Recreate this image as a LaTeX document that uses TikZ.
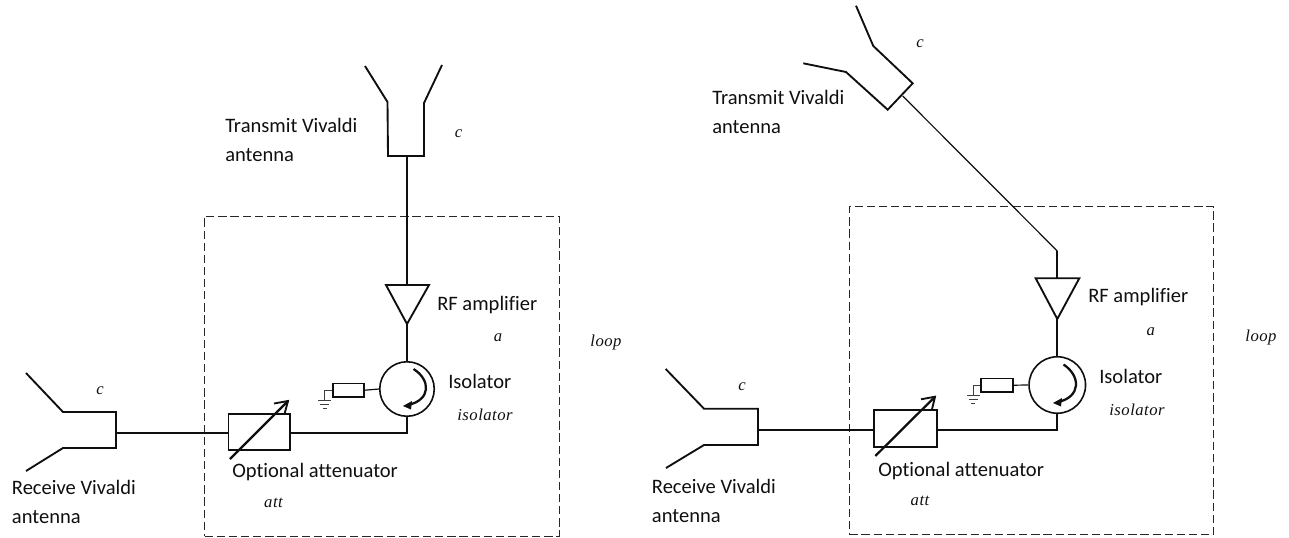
\documentclass[tikz,border=0pt]{standalone}
\usepackage{fontspec}
\setmainfont[Ligatures=NoCommon]{Carlito}
\newfontfamily\mathish[LetterSpace=3]{Liberation Serif}
\usetikzlibrary{calc}
\definecolor{ink}{RGB}{15,15,15}
\tikzset{
  x=0.75pt,y=-0.75pt,
  wire/.style={draw=ink,line width=1.4pt,line join=miter},
  thinwire/.style={draw=ink,line width=0.9pt},
  hairwire/.style={draw=ink!80,line width=0.7pt},
  loopbox/.style={draw=ink!90,line width=0.85pt,dash pattern=on 6.2pt off 2.9pt},
  boxpart/.style={draw=ink,line width=1.4pt,inner sep=0pt,anchor=north west},
  isoring/.style={draw=ink,line width=1.2pt,circle,inner sep=0pt},
  lab/.style={anchor=base west,inner sep=0pt,text=ink,align=left,font=\fontsize{15.4}{21.75}\selectfont},
  var/.style={anchor=base,inner sep=0pt,text=ink,font=\mathish\itshape\fontsize{12.5}{14}\selectfont},
}
\begin{document}
\begin{tikzpicture}
\useasboundingbox (0,0) rectangle (1289,537);

%% LEFT
\node[inner sep=0pt,minimum width=354.5*0.75pt,minimum height=320*0.75pt,anchor=north west,loopbox] (loopL) at (204,215.5) {};
% transmit antenna
\coordinate (ta1) at (365,66); \coordinate (ta2) at (387.5,102); \coordinate (ta3) at (388,156);
\coordinate (ta4) at (424,156); \coordinate (ta5) at (424,103); \coordinate (ta6) at (442,65);
\coordinate (tafeed) at (407,156);
\draw[wire] (ta1) -- (ta2) -- (ta3) -- (ta4) -- (ta5) -- (ta6);
% amplifier
\coordinate (ampLl) at (386,285); \coordinate (ampLr) at (429,285); \coordinate (ampLo) at (407,324); \coordinate (ampLi) at (407,285);
\draw[wire] (ampLl) -- (ampLr) -- (ampLo) -- cycle;
\draw[wire] (tafeed) -- (ampLi);
% isolator
\node[isoring,minimum size=54.5*0.75pt] (isoL) at (407,389) {};
\draw[wire] (ampLo) -- (isoL.north);
\draw[draw=ink,line width=1.7pt] (413.5,369) .. controls (431,380) and (431,400) .. (408,405);
\fill[ink] (403,406) -- (412,401) -- (411,409.5) -- cycle;
% attenuator
\node[boxpart,minimum width=61.5*0.75pt,minimum height=36*0.75pt] (attL) at (227.5,413) {};
% receive antenna
\coordinate (ra1) at (26,373); \coordinate (ra2) at (63,412); \coordinate (ra3) at (116,412);
\coordinate (ra4) at (116,448); \coordinate (ra5) at (63,448); \coordinate (ra6) at (26,471);
\coordinate (rafeed) at (116,433);
\draw[wire] (ra1) -- (ra2) -- (ra3) -- (ra4) -- (ra5) -- (ra6);
\draw[wire] (rafeed) -- (rafeed -| attL.west);
\draw[wire] (isoL.south) |- (rafeed -| attL.east);
% variable arrow
\coordinate (vaL1) at (230,459); \coordinate (vaL2) at (288,401);
\draw[draw=ink,line width=1.7pt] (vaL1) -- (vaL2);
\draw[draw=ink,line width=1.4pt] (274,403.5) -- (vaL2) -- (284.5,414);
% resistor and ground
\node[boxpart,minimum width=31*0.75pt,minimum height=13.5*0.75pt] (resL) at (332,382.5) {};
\draw[thinwire] (resL.east) -- (isoL.west);
\coordinate (gndL) at (324.7,400.5);
\draw[hairwire] (resL.west) -| (gndL);
\draw[hairwire] (318.3,400.5) -- (330.8,400.5) (320.3,404.5) -- (328.8,404.5) (322.7,408.5) -- (326.7,408.5);
% labels
\node[lab] (txL) at (225,161) {Transmit Vivaldi\\antenna};
\node[lab] (rfL) at (437,310) {RF amplifier};
\node[lab] (isL) at (448,388) {Isolator};
\node[lab] (opL) at (232,477.5) {Optional attenuator};
\node[lab] (rxL) at (11.7,523) {Receive Vivaldi\\antenna};
\node[var] (vcTL) at (458.5,137) {c};
\node[var] (vaL) at (498,341) {a};
\node[var] (vlL) at (606,346.5) {loop};
\node[var] (viL) at (485,420) {isolator};
\node[var] (vtL) at (273.5,507) {att};
\node[var] (vcRL) at (100,394) {c};

%% RIGHT
\node[inner sep=0pt,minimum width=364.5*0.75pt,minimum height=328*0.75pt,anchor=north west,loopbox] (loopR) at (848.7,206) {};
% transmit antenna
\coordinate (tb1) at (803.3,63.3); \coordinate (tb2) at (846,72); \coordinate (tb3) at (887.7,109.7);
\coordinate (tb4) at (912.7,83.3); \coordinate (tb5) at (873.3,46); \coordinate (tb6) at (856,5.7);
\coordinate (tbfeed) at (902.7,96); \coordinate (tbbend) at (1057.3,251);
\draw[wire] (tb1) -- (tb2) -- (tb3) -- (tb4) -- (tb5) -- (tb6);
\draw[thinwire] (tbfeed) -- (tbbend);
% amplifier
\coordinate (ampRl) at (1035.7,278.3); \coordinate (ampRr) at (1079.3,278.3); \coordinate (ampRo) at (1057.3,319); \coordinate (ampRi) at (1057.3,278.3);
\draw[wire] (ampRl) -- (ampRr) -- (ampRo) -- cycle;
\draw[wire] (tbbend) -- (ampRi);
% isolator
\node[isoring,minimum size=56.5*0.75pt] (isoR) at (1057.3,385) {};
\draw[wire] (ampRo) -- (isoR.north);
\draw[draw=ink,line width=1.7pt] (1063.5,364.5) .. controls (1081,376) and (1081,397) .. (1058,402);
\fill[ink] (1053,403) -- (1062,398) -- (1061,406.5) -- cycle;
% attenuator
\node[boxpart,minimum width=63.3*0.75pt,minimum height=37*0.75pt] (attR) at (872.7,409) {};
% receive antenna
\coordinate (rb1) at (665.7,369); \coordinate (rb2) at (704,408.7); \coordinate (rb3) at (758,408.7);
\coordinate (rb4) at (758,445); \coordinate (rb5) at (704,445); \coordinate (rb6) at (666,468);
\coordinate (rbfeed) at (758,430);
\draw[wire] (rb1) -- (rb2) -- (rb3) -- (rb4) -- (rb5) -- (rb6);
\draw[wire] (rbfeed) -- (rbfeed -| attR.west);
\draw[wire] (isoR.south) |- (rbfeed -| attR.east);
% variable arrow
\coordinate (vaR1) at (875.3,456); \coordinate (vaR2) at (935,396.7);
\draw[draw=ink,line width=1.7pt] (vaR1) -- (vaR2);
\draw[draw=ink,line width=1.4pt] (921,399.3) -- (vaR2) -- (931.7,410.7);
% resistor and ground
\node[boxpart,minimum width=32*0.75pt,minimum height=13.5*0.75pt] (resR) at (980,377.5) {};
\draw[thinwire] (resR.east) -- (isoR.west);
\coordinate (gndR) at (973.3,395.5);
\draw[hairwire] (resR.west) -| (gndR);
\draw[hairwire] (967,395.5) -- (979.5,395.5) (969,399.5) -- (977.5,399.5) (971.3,403.5) -- (975.3,403.5);
% labels
\node[lab] (txR) at (712,133.5) {Transmit Vivaldi\\antenna};
\node[lab] (rfR) at (1088,302.7) {RF amplifier};
\node[lab] (isR) at (1099,383) {Isolator};
\node[lab] (opR) at (878,476) {Optional attenuator};
\node[lab] (rxR) at (651.7,522) {Receive Vivaldi\\antenna};
\node[var] (vcTR) at (920,47.3) {c};
\node[var] (vaR) at (1150.7,335) {a};
\node[var] (vlR) at (1261,341) {loop};
\node[var] (viR) at (1137,415.7) {isolator};
\node[var] (vtR) at (920,505) {att};
\node[var] (vcRR) at (742,390) {c};
\end{tikzpicture}
\end{document}
